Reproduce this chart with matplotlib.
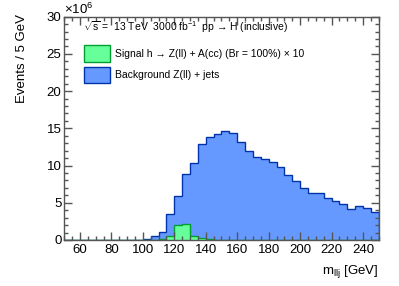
import numpy as np
import matplotlib
matplotlib.use("Agg")
import matplotlib.pyplot as plt
from matplotlib.patches import Rectangle
from matplotlib.ticker import MultipleLocator

plt.rcParams['font.family'] = ['Liberation Sans', 'DejaVu Sans']
plt.rcParams['mathtext.fontset'] = 'custom'
plt.rcParams['mathtext.rm'] = 'Liberation Sans'
plt.rcParams['mathtext.it'] = 'Liberation Sans'
plt.rcParams['mathtext.bf'] = 'Liberation Sans:bold'

# bin edges: 50..250 GeV in 5 GeV bins
bin_low = 50
bin_high = 250
bin_width = 5

# Background Z(ll)+jets, events per bin (x 10^6)
background = [0, 0, 0, 0, 0, 0, 0, 0, 0, 0,
              0.15, 0.5, 1.1, 3.45, 5.95, 8.85, 10.3, 12.85, 13.9, 14.25,
              14.7, 14.4, 13.1, 11.9, 11.2, 10.9, 10.45, 9.85, 8.75, 7.95,
              6.95, 6.25, 6.35, 5.6, 5.3, 4.85, 4.1, 4.55, 4.25, 3.7]

# Signal x10, events per bin (x 10^6)
signal = [0, 0, 0, 0, 0, 0, 0, 0, 0, 0,
          0, 0, 0.2, 0.55, 1.95, 2.15, 0.55, 0.25, 0.1, 0.05,
          0, 0, 0, 0, 0, 0, 0, 0, 0, 0,
          0, 0, 0, 0, 0, 0, 0, 0, 0, 0]

xticks = [60, 80, 100, 120, 140, 160, 180, 200, 220, 240]
yticks = [0, 5, 10, 15, 20, 25, 30]

edges = np.arange(bin_low, bin_high + bin_width, bin_width)

fig = plt.figure(figsize=(3.99, 2.86), dpi=100)
ax = fig.add_axes([64.3/399, 1-240/286, 314.4/399, 223.3/286])

ax.stairs(background, edges, fill=True, facecolor='#6699ff', edgecolor='#0033aa', linewidth=1.0, baseline=0)
ax.stairs(signal, edges, fill=True, facecolor='#66ff99', edgecolor='#00a030', linewidth=1.0, baseline=0)

ax.set_xlim(bin_low, bin_high)
ax.set_ylim(0, 30)
ax.set_xticks(xticks)
ax.set_yticks(yticks)
ax.xaxis.set_minor_locator(MultipleLocator(5))
ax.yaxis.set_minor_locator(MultipleLocator(1))
fc = '#555555'
ax.tick_params(which='both', direction='in', top=True, right=True, color=fc, labelsize=9.5, width=1.0)
ax.tick_params(which='major', length=6)
ax.tick_params(which='minor', length=3.2)
ax.tick_params(axis='x', pad=3)
ax.tick_params(axis='y', pad=2)
for s in ax.spines.values():
    s.set_color(fc)
    s.set_linewidth(1.0)

ax.text(0.0, 1.0, r'$\times10^{6}$', transform=ax.transAxes, ha='left', va='bottom', fontsize=9.5)

fig.text(22/399, 1-14/286, 'Events / 5 GeV', rotation=90, ha='center', va='top', fontsize=9.5)
fig.text(378/399, 1-272/286, r'm$_{\mathrm{llj}}$ [GeV]', ha='right', va='center', fontsize=9.5)

# legend
ax.text(0.0605, 0.954, r'$\sqrt{s}$ =  13 TeV  3000 fb$^{-1}$  pp → H (inclusive)',
        transform=ax.transAxes, ha='left', va='center', fontsize=7.5)
ax.add_patch(Rectangle((0.0627, 0.797), 0.0827, 0.076, transform=ax.transAxes,
                       facecolor='#66ff99', edgecolor='#00a030', linewidth=1.0, clip_on=False))
ax.add_patch(Rectangle((0.0627, 0.702), 0.0827, 0.0747, transform=ax.transAxes,
                       facecolor='#6699ff', edgecolor='#0033aa', linewidth=1.0, clip_on=False))
ax.text(0.161, 0.835, 'Signal h → Z(ll) + A(cc) (Br = 100%) × 10',
        transform=ax.transAxes, ha='left', va='center', fontsize=7.5)
ax.text(0.161, 0.739, 'Background Z(ll) + jets',
        transform=ax.transAxes, ha='left', va='center', fontsize=7.5)

fig.savefig('out.png', dpi=100)
